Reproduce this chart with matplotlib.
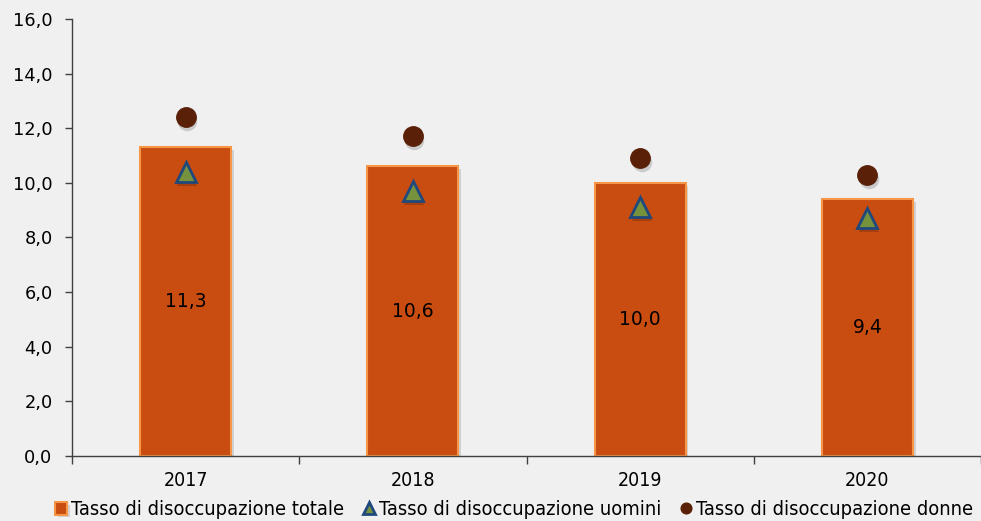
import matplotlib
matplotlib.use("Agg")
import matplotlib.pyplot as plt
import matplotlib.patheffects as pe
import matplotlib.transforms as mtransforms
from matplotlib.ticker import FuncFormatter, MultipleLocator, FixedLocator
import numpy as np

plt.rcParams['font.family'] = ['DejaVu Sans']
plt.rcParams['font.stretch'] = 'condensed'

years = ["2017", "2018", "2019", "2020"]
totale = [11.3, 10.6, 10.0, 9.4]
uomini = [10.4, 9.7, 9.1, 8.7]
donne = [12.4, 11.7, 10.9, 10.3]

bg = "#F0F0F0"
fig = plt.figure(figsize=(9.81, 5.21), dpi=100, facecolor=bg)
ax = fig.add_axes([0.0734, 0.1248, 0.9266, 0.8387], facecolor=bg)

x = np.arange(len(years))

bars = ax.bar(x, totale, width=0.40, color="#C94C10", edgecolor="#F79646",
              linewidth=1.5, label="Tasso di disoccupazione totale", zorder=2,
              path_effects=[pe.SimplePatchShadow(offset=(2, -2), shadow_rgbFace="#777777", alpha=0.25), pe.Normal()])
for b, v in zip(bars, totale):
    ax.text(b.get_x() + b.get_width() / 2, v / 2, f"{v:.1f}".replace(".", ","),
            ha="center", va="center", fontsize=13.5, fontstretch="normal",
            color="black", zorder=5)

# soft drop shadows under the markers
sh = mtransforms.offset_copy(ax.transData, fig=fig, x=1.5, y=-4, units="dots")
ax.plot(x, uomini, linestyle="none", marker="^", markersize=15, color="#3a1a08",
        alpha=0.25, markeredgewidth=0, transform=sh, zorder=2.5)
ax.plot(x, donne, linestyle="none", marker="o", markersize=14, color="#333333",
        alpha=0.2, markeredgewidth=0, transform=sh, zorder=2.5)

tri, = ax.plot(x, uomini, linestyle="none", marker="^", markersize=15,
               markerfacecolor="#76923C", markeredgecolor="#1F497D", markeredgewidth=2,
               label="Tasso di disoccupazione uomini", zorder=3)
dot, = ax.plot(x, donne, linestyle="none", marker="o", markersize=14,
               markerfacecolor="#5A2108", markeredgecolor="#5A2108",
               label="Tasso di disoccupazione donne", zorder=3)

ax.set_xlim(-0.5, 3.5)
ax.set_ylim(0, 16)
ax.yaxis.set_major_locator(MultipleLocator(2))
ax.yaxis.set_major_formatter(FuncFormatter(lambda v, p: f"{v:.1f}".replace(".", ",")))
ax.set_xticks(x)
ax.set_xticklabels(years)
ax.xaxis.set_minor_locator(FixedLocator([-0.5, 0.5, 1.5, 2.5, 3.5]))
ax.tick_params(axis="x", which="major", length=0, labelsize=14, pad=11)
ax.tick_params(axis="x", which="minor", length=6, width=1, color="#404040")
ax.tick_params(axis="y", length=5, width=1, color="#404040", labelsize=12.8, pad=9)
for t in ax.get_yticklabels():
    t.set_fontstretch("normal")

for s in ["top", "right"]:
    ax.spines[s].set_visible(False)
for s in ["left", "bottom"]:
    ax.spines[s].set_color("#404040")
    ax.spines[s].set_linewidth(1)

leg = fig.legend([bars, tri, dot],
                 ["Tasso di disoccupazione totale", "Tasso di disoccupazione uomini",
                  "Tasso di disoccupazione donne"],
                 loc="lower center", bbox_to_anchor=(0.524, -0.03), ncol=3, frameon=False,
                 fontsize=14.4, handlelength=0.6, handletextpad=0.2, columnspacing=0.95,
                 markerscale=0.55)
for h in leg.legend_handles:
    if hasattr(h, "set_height"):
        h.set_height(9)
        h.set_width(9)

fig.savefig("out.png", dpi=100, facecolor=bg)
